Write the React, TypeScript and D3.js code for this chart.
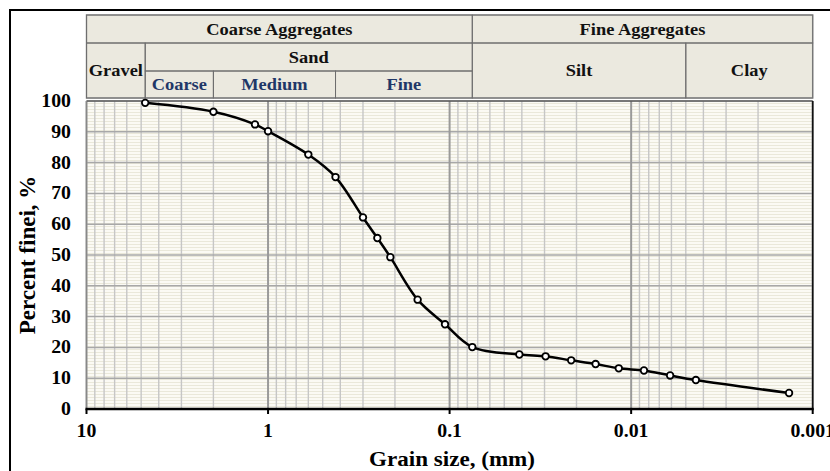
import { useMemo } from "react";
import * as d3 from "d3";

// sieve / hydrometer readings
const grainSizes = [4.75, 2.0, 1.18, 1.0, 0.6, 0.425, 0.3, 0.25, 0.212, 0.15, 0.106, 0.075, 0.0413, 0.0296, 0.0214, 0.0157, 0.0117, 0.0085, 0.0061, 0.0044, 0.00135];
const percentFiner = [99.4, 96.5, 92.4, 90.2, 82.6, 75.3, 62.2, 55.5, 49.3, 35.5, 27.5, 20.1, 17.7, 17.1, 15.8, 14.6, 13.2, 12.5, 10.9, 9.4, 5.2];

const xTicks = [10, 1, 0.1, 0.01, 0.001];
const xTickLabels = ["10", "1", "0.1", "0.01", "0.001"];
const yTicks = [0, 10, 20, 30, 40, 50, 60, 70, 80, 90, 100];

// classification bands (boundaries in mm)
const groupNames = ["Coarse Aggregates", "Fine Aggregates"];
const groupBounds = [10, 0.075, 0.001];
const soilNames = ["Gravel", "Sand", "Silt", "Clay"];
const soilBounds = [10, 4.75, 0.075, 0.005, 0.001];
const sandNames = ["Coarse", "Medium", "Fine"];
const sandBounds = [4.75, 2.0, 0.425, 0.075];

const W = 830;
const H = 471;
const PLOT = { left: 86.5, right: 812.7, top: 101, bottom: 409 };
const HEAD = { top: 15, row1: 43, row2: 71, bottom: 98 };

const FONT = "'Liberation Serif', 'Times New Roman', serif";
const STRETCH = 1.15; // the source figure is a bit wider than tall

type LabelProps = { x: number; y: number; size: number; fill?: string; anchor?: string; sx?: number; children: string };

// bold serif text, stretched horizontally like the original picture
const Label = ({ x, y, size, fill = "#000", anchor = "middle", sx = STRETCH, children }: LabelProps) => (
    <g transform={`translate(${x},${y}) scale(${sx},1)`}>
        <text textAnchor={anchor as any} fontSize={size} fontWeight="bold" fill={fill}>
            {children}
        </text>
    </g>
);

const App = () => {
    const x = useMemo(() => d3.scaleLog().domain([10, 0.001]).range([PLOT.left, PLOT.right]), []);
    const y = useMemo(() => d3.scaleLinear().domain([0, 100]).range([PLOT.bottom, PLOT.top]), []);

    const minorX = useMemo(() => {
        const out: number[] = [];
        for (let e = 0; e >= -3; e--) {
            for (let m = 2; m <= 9; m++) {
                const v = m * Math.pow(10, e);
                if (v < 10 && v > 0.001) out.push(v);
            }
        }
        return out;
    }, []);

    const path = useMemo(() => {
        const line = d3
            .line<number>()
            .x((d, i) => x(grainSizes[i]))
            .y((d) => y(d))
            .curve(d3.curveCatmullRom.alpha(0.5));
        return line(percentFiner) || undefined;
    }, [x, y]);

    const cell = (x0: number, x1: number, y0: number, y1: number) => (
        <rect x={x0} y={y0} width={x1 - x0} height={y1 - y0} fill="none" stroke="#6e6e6e" strokeWidth={1} />
    );

    return (
        <svg width={W} height={H} style={{ position: "absolute", left: 0, top: 0, background: "#fff" }} fontFamily={FONT}>
            <defs>
                <pattern id="stripes" width={6} height={3} patternUnits="userSpaceOnUse">
                    <rect width={6} height={3} fill="#fbfaf4" />
                    <rect y={1} width={6} height={1} fill="#eae8da" />
                </pattern>
            </defs>

            {/* outer frame */}
            <rect x={10} y={10} width={W + 20} height={H + 20} fill="none" stroke="#000" strokeWidth={2} />

            {/* header table */}
            <g>
                <rect x={PLOT.left} y={HEAD.top} width={PLOT.right - PLOT.left} height={HEAD.bottom - HEAD.top} fill="#ebe9df" stroke="#9a9a9a" strokeWidth={1.5} />
                {groupNames.map((n, i) => {
                    const x0 = x(groupBounds[i]);
                    const x1 = x(groupBounds[i + 1]);
                    return (
                        <g key={n}>
                            {cell(x0, x1, HEAD.top, HEAD.row1)}
                            <Label x={(x0 + x1) / 2} y={(HEAD.top + HEAD.row1) / 2 + 5.5} size={16} fill="#111">
                                {n}
                            </Label>
                        </g>
                    );
                })}
                {soilNames.map((n, i) => {
                    const x0 = x(soilBounds[i]);
                    const x1 = x(soilBounds[i + 1]);
                    const y1 = n === "Sand" ? HEAD.row2 : HEAD.bottom;
                    return (
                        <g key={n}>
                            {cell(x0, x1, HEAD.row1, y1)}
                            <Label x={(x0 + x1) / 2} y={(HEAD.row1 + y1) / 2 + 5.5} size={16} fill="#111">
                                {n}
                            </Label>
                        </g>
                    );
                })}
                {sandNames.map((n, i) => {
                    const x0 = x(sandBounds[i]);
                    const x1 = x(sandBounds[i + 1]);
                    return (
                        <g key={n}>
                            {cell(x0, x1, HEAD.row2, HEAD.bottom)}
                            <Label x={(x0 + x1) / 2} y={(HEAD.row2 + HEAD.bottom) / 2 + 5.5} size={16} fill="#1f3768">
                                {n}
                            </Label>
                        </g>
                    );
                })}
            </g>

            {/* plot background */}
            <rect x={PLOT.left} y={PLOT.top} width={PLOT.right - PLOT.left} height={PLOT.bottom - PLOT.top} fill="url(#stripes)" />

            {/* grid */}
            {minorX.map((v) => (
                <line key={"mx" + v} x1={x(v)} x2={x(v)} y1={PLOT.top} y2={PLOT.bottom} stroke="#c6c6c6" strokeWidth={1.4} />
            ))}
            {yTicks.map((t) => (
                <line key={"gy" + t} x1={PLOT.left} x2={PLOT.right} y1={y(t)} y2={y(t)} stroke="#a8a8a8" strokeWidth={1.5} />
            ))}
            {xTicks.map((t) => (
                <line key={"gx" + t} x1={x(t)} x2={x(t)} y1={PLOT.top} y2={PLOT.bottom} stroke="#9a9a9a" strokeWidth={2} />
            ))}

            {/* plot frame */}
            <line x1={PLOT.left} x2={PLOT.right} y1={PLOT.top} y2={PLOT.top} stroke="#333" strokeWidth={1.2} />
            <line x1={PLOT.right} x2={PLOT.right} y1={PLOT.top} y2={PLOT.bottom} stroke="#111" strokeWidth={1.6} />
            <line x1={PLOT.left} x2={PLOT.left} y1={PLOT.top} y2={PLOT.bottom} stroke="#888" strokeWidth={1.2} />
            <line x1={PLOT.left - 1} x2={PLOT.right + 1} y1={PLOT.bottom} y2={PLOT.bottom} stroke="#000" strokeWidth={2.5} />
            {xTicks.map((t) => (
                <line key={"tk" + t} x1={x(t)} x2={x(t)} y1={PLOT.bottom} y2={PLOT.bottom + 5} stroke="#000" strokeWidth={2} />
            ))}

            {/* curve */}
            <path d={path} fill="none" stroke="#000" strokeWidth={2.5} />
            {percentFiner.map((p, i) => (
                <circle key={i} cx={x(grainSizes[i])} cy={y(p)} r={3.3} fill="#fff" stroke="#000" strokeWidth={1.8} />
            ))}

            {/* tick labels */}
            {yTicks.map((t) => (
                <Label key={"yl" + t} x={71} y={y(t) + 6} size={18} anchor="end" sx={1.1}>
                    {String(t)}
                </Label>
            ))}
            {xTicks.map((t, i) => (
                <Label key={"xl" + t} x={x(t)} y={437} size={18} sx={1.1}>
                    {xTickLabels[i]}
                </Label>
            ))}

            {/* axis titles */}
            <Label x={452} y={466} size={22} sx={1.05}>
                Grain size, (mm)
            </Label>
            <text transform={`translate(35, ${(PLOT.top + PLOT.bottom) / 2}) rotate(-90)`} textAnchor="middle" fontSize={23} fontWeight="bold" fill="#000">
                Percent finei, %
            </text>
        </svg>
    );
};

export default App;
